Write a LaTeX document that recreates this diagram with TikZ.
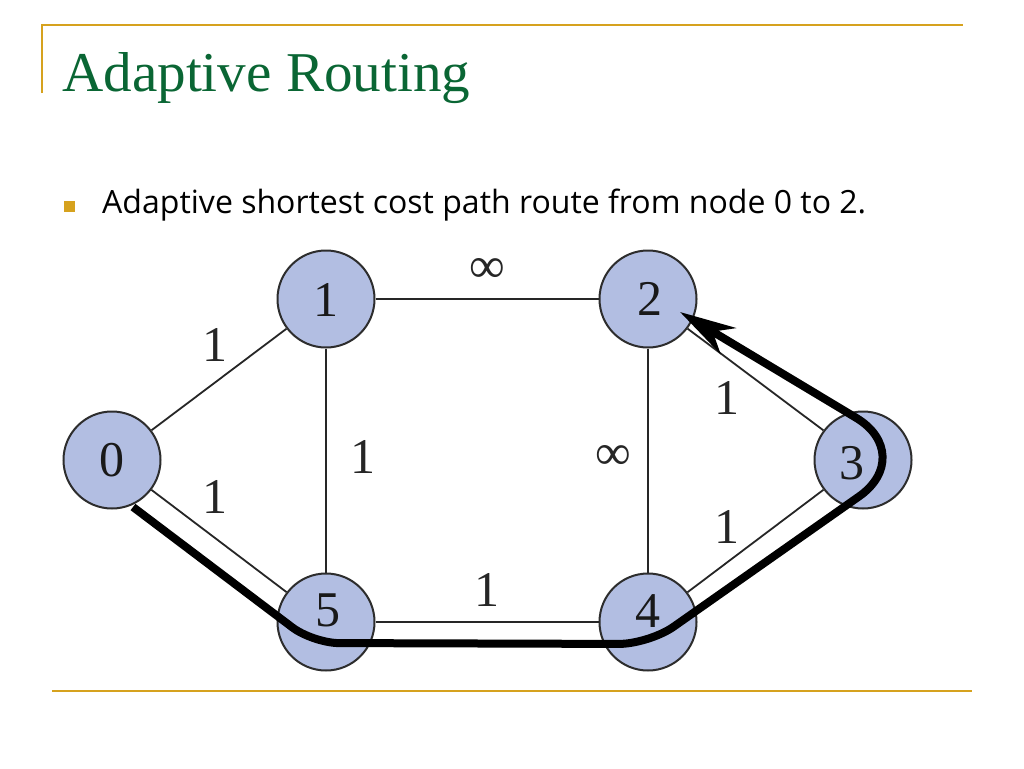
\documentclass[tikz,border=0pt]{standalone}
\usepackage{fontspec}
\setmainfont{Liberation Serif}
\newfontfamily\bulletfont{Open Sans}
\usetikzlibrary{calc,arrows.meta}
\definecolor{gold}{RGB}{214,162,30}
\definecolor{titlegreen}{RGB}{10,102,52}
\definecolor{vfill}{RGB}{178,190,226}
\definecolor{vline}{RGB}{45,45,45}
\tikzset{
  vertex/.style={circle, minimum size=97pt, inner sep=0pt, fill=vfill, draw=vline, line width=2pt},
  vlabel/.style={font=\fontsize{50}{50}\selectfont, inner sep=0pt, text=black!90},
  elabel/.style={font=\fontsize{50}{50}\selectfont, inner sep=0pt, text=black!85},
  edge/.style={draw=black!85, line width=1.8pt},
  route/.style={draw=black, line width=8pt, line join=round},
  rule/.style={draw=gold, line width=2.5pt}
}
\begin{document}
\begin{tikzpicture}[x=1pt, y=-1pt]
\useasboundingbox (0,0) rectangle (1024,768);
\fill[white] (0,0) rectangle (1024,768);

% decorative rules
\coordinate (tl) at (42,25);
\coordinate (tr) at (963,25);
\coordinate (tv) at (42,93);
\coordinate (bl) at (52,691);
\coordinate (br) at (972,691);
\draw[rule] (tv) -- (tl) -- (tr);
\draw[rule] (bl) -- (br);

% title
\node[anchor=base west, inner sep=0pt, text=titlegreen] (title) at (62,92)
  {\resizebox{408pt}{39pt}{\fontsize{56}{60}\selectfont Adaptive Routing}};

% bullet
\node[fill=gold, minimum size=11pt, inner sep=0pt] (bullet) at (69,206) {};
\node[anchor=base west, inner sep=0pt] (btext) at (102,213)
  {\resizebox{764pt}{!}{\bulletfont\fontsize{24}{28}\selectfont Adaptive shortest cost path route from node 0 to 2.}};

% vertices
\node[vertex] (n0) at (112,460) {};
\node[vertex] (n1) at (326,299) {};
\node[vertex] (n2) at (648,299) {};
\node[vertex] (n3) at (863,460) {};
\node[vertex] (n4) at (648,622) {};
\node[vertex] (n5) at (326,622) {};

% edges
\draw[edge] (n0) -- (n1);
\draw[edge] (n0) -- (n5);
\draw[edge] (n1) -- (n5);
\draw[edge] (n1) -- (n2);
\draw[edge] (n2) -- (n4);
\draw[edge] (n5) -- (n4);
\draw[edge] (n2) -- (n3);
\draw[edge] (n3) -- (n4);

% vertex labels
\node[vlabel] (l0) at (112,460) {0};
\node[vlabel] (l1) at (326,300) {1};
\node[vlabel] (l2) at (650,299) {2};
\node[vlabel] (l3) at (852,463) {3};
\node[vlabel] (l4) at (648,611) {4};
\node[vlabel] (l5) at (328,610) {5};

% edge labels
\node[elabel] (e01) at (215,345) {1};
\node[elabel] (e05) at (215,497) {1};
\node[elabel] (e15) at (363,457) {1};
\node[elabel] (e12) at (487,270) {∞};
\node[elabel] (e54) at (487,590) {1};
\node[elabel] (e24) at (613,457) {∞};
\node[elabel] (e23) at (727,398) {1};
\node[elabel] (e34) at (727,527) {1};

% highlighted route
\coordinate (s) at (133,507);
\coordinate (c5) at (313,643);
\coordinate (c4) at (649,644);
\coordinate (c3) at (918,455);
\coordinate (tip) at (680,312);
\coordinate (a1) at ($(c5)!26pt!(s)$);
\coordinate (a2) at ($(c5)!26pt!(c4)$);
\coordinate (b1) at ($(c4)!30pt!(c5)$);
\coordinate (b2) at ($(c4)!30pt!(c3)$);
\coordinate (d1) at ($(c3)!72pt!(c4)$);
\coordinate (d2) at ($(c3)!72pt!(tip)$);
\draw[route, -{Stealth[length=56pt, width=30pt, inset=18pt]}]
  (s) -- (a1) .. controls ($(a1)!0.55!(c5)$) and ($(a2)!0.55!(c5)$) .. (a2)
  -- (b1) .. controls ($(b1)!0.55!(c4)$) and ($(b2)!0.55!(c4)$) .. (b2)
  -- (d1) .. controls ($(d1)!0.55!(c3)$) and ($(d2)!0.55!(c3)$) .. (d2)
  -- (tip);
\end{tikzpicture}
\end{document}
